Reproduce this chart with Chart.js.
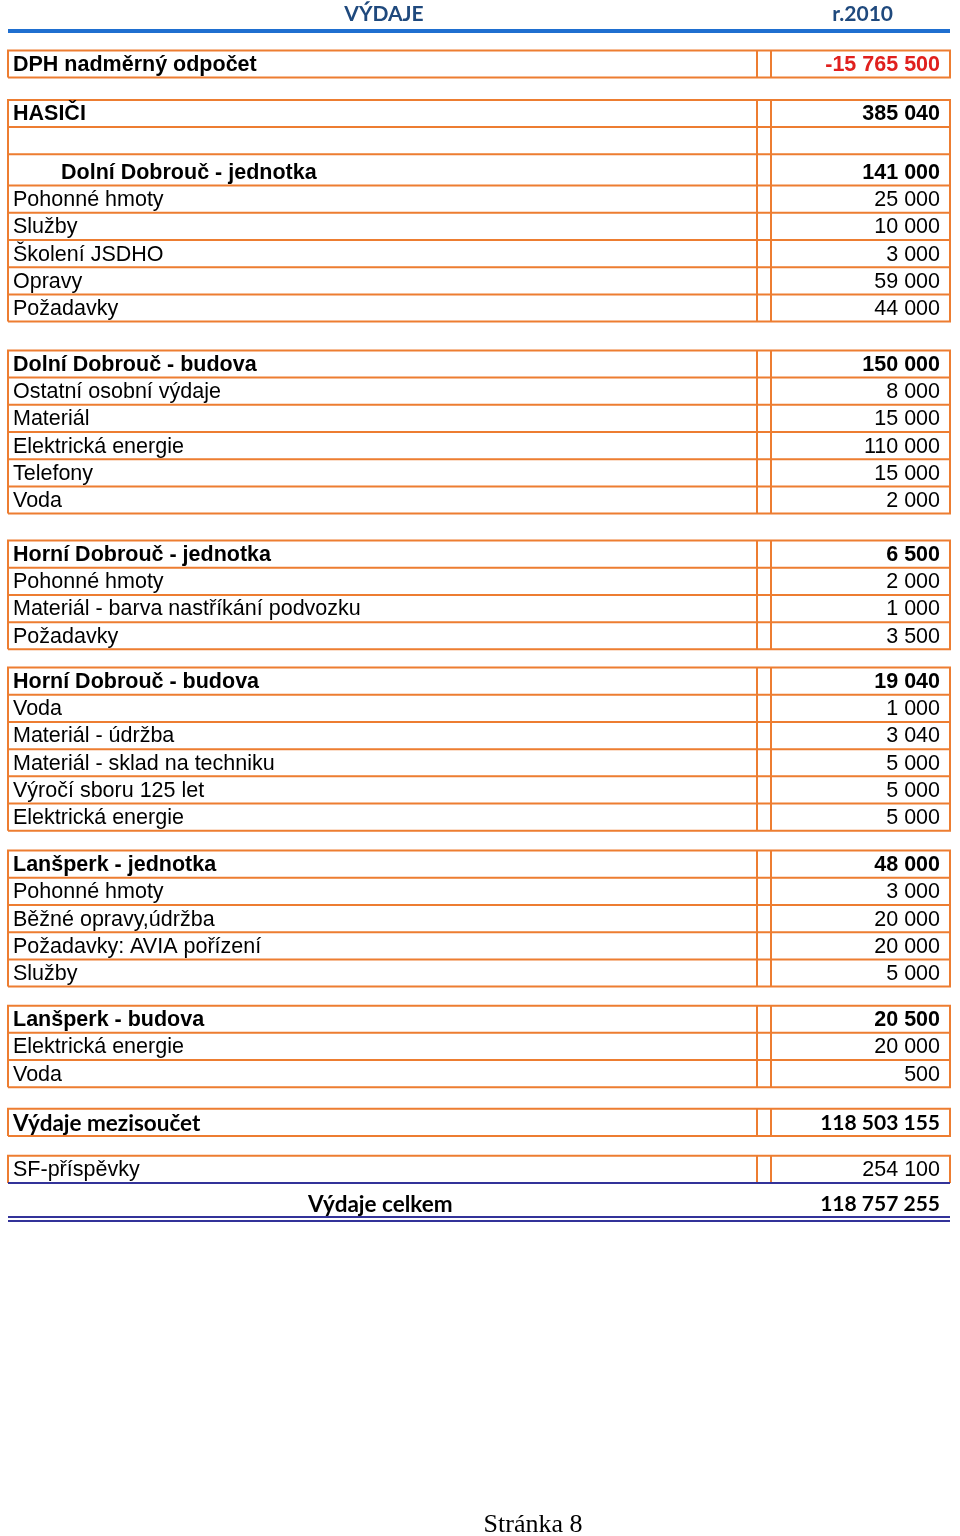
<!DOCTYPE html>
<html lang="cs">
<head>
  <meta charset="UTF-8" />
  <title>Výdaje r.2010</title>
  <style>
    body { margin: 0; background: #ffffff; }
    canvas { display: block; }
  </style>
  <script src="https://cdn.jsdelivr.net/npm/chart.js"></script>
</head>
<body>
  <canvas id="vydaje" width="960" height="1536"></canvas>

  <script>
    // --- data ---
    const pageTitle = 'VÝDAJE';
    const yearLabel = 'r.2010';
    const footerText = 'Stránka 8';

    const rowLabels = [
      'DPH nadměrný odpočet',
      'HASIČI', '', 'Dolní Dobrouč - jednotka', 'Pohonné hmoty', 'Služby', 'Školení JSDHO', 'Opravy', 'Požadavky',
      'Dolní Dobrouč - budova', 'Ostatní osobní výdaje', 'Materiál', 'Elektrická energie', 'Telefony', 'Voda',
      'Horní Dobrouč - jednotka', 'Pohonné hmoty', 'Materiál - barva nastříkání podvozku', 'Požadavky',
      'Horní Dobrouč - budova', 'Voda', 'Materiál - údržba', 'Materiál - sklad na techniku', 'Výročí sboru 125 let', 'Elektrická energie',
      'Lanšperk - jednotka', 'Pohonné hmoty', 'Běžné opravy,údržba', 'Požadavky: AVIA pořízení', 'Služby',
      'Lanšperk - budova', 'Elektrická energie', 'Voda',
      'Výdaje mezisoučet',
      'SF-příspěvky',
      'Výdaje celkem'
    ];
    const rowValues = [
      -15765500,
      385040, null, 141000, 25000, 10000, 3000, 59000, 44000,
      150000, 8000, 15000, 110000, 15000, 2000,
      6500, 2000, 1000, 3500,
      19040, 1000, 3040, 5000, 5000, 5000,
      48000, 3000, 20000, 20000, 5000,
      20500, 20000, 500,
      118503155,
      254100,
      118757255
    ];
    // do kterého bloku (rámečku) řádek patří
    const rowBlock = [
      0,
      1, 1, 1, 1, 1, 1, 1, 1,
      2, 2, 2, 2, 2, 2,
      3, 3, 3, 3,
      4, 4, 4, 4, 4, 4,
      5, 5, 5, 5, 5,
      6, 6, 6,
      7,
      8,
      9
    ];
    const subtotalRows = [0, 1, 3, 9, 15, 19, 25, 30];
    const summaryRows = [33, 35];

    // --- vzhled ---
    const ROW_PX = 27.2;
    const FIRST_ROW_PX = 64;
    const blockGap = [1.82, 2.06, 1.99, 1.67, 1.73, 1.70, 1.79, 1.73, 1.25];
    const tallRow = 3, tallExtra = 0.15; // vyšší řádek „Dolní Dobrouč - jednotka“
    const X_LEFT = 8, X_SEP1 = 757, X_SEP2 = 771, X_RIGHT = 950;
    const X_TEXT = 13, X_INDENT = 61, X_VALUE = 940, X_TOTAL_LABEL = 308;
    const ORANGE = '#ED7D31';
    const NAVY = '#333399';
    const TITLE_BLUE = '#1F497D';
    const SANS = 'Arial, "Liberation Sans", Helvetica, sans-serif';
    const CALIBRI = 'Lato, "Open Sans", sans-serif';

    const rowPos = [];
    let pos = 0;
    rowBlock.forEach((b, i) => {
      if (i > 0) pos += (b !== rowBlock[i - 1]) ? blockGap[rowBlock[i - 1]] : 1;
      if (i === tallRow) pos += tallExtra;
      rowPos.push(pos);
    });

    function fmt(v) {
      const s = String(Math.abs(v)).replace(/\B(?=(\d{3})+(?!\d))/g, ' ');
      return (v < 0 ? '-' : '') + s;
    }

    const tablePlugin = {
      id: 'tablePlugin',
      afterDatasetsDraw(chart) {
        const ctx = chart.ctx;
        const xs = chart.scales.x, ys = chart.scales.y;
        const pts = chart.getDatasetMeta(0).data;
        const X = v => xs.getPixelForValue(v);
        const Y = v => ys.getPixelForValue(v);

        ctx.save();
        // hlavička
        ctx.fillStyle = TITLE_BLUE;
        ctx.font = 'bold 21px ' + CALIBRI;
        ctx.textBaseline = 'middle';
        ctx.textAlign = 'center';
        ctx.fillText(pageTitle, X(384), Y(-1.84));
        ctx.textAlign = 'right';
        ctx.fillText(yearLabel, X(893), Y(-1.84));
        ctx.strokeStyle = '#1F6FD0';
        ctx.lineWidth = 4;
        ctx.beginPath();
        ctx.moveTo(X(X_LEFT), Y(-1.21));
        ctx.lineTo(X(X_RIGHT), Y(-1.21));
        ctx.stroke();

        // rámečky bloků
        const blocks = [...new Set(rowBlock)];
        blocks.forEach(b => {
          const idx = rowBlock.map((bb, i) => bb === b ? i : -1).filter(i => i >= 0);
          const first = rowPos[idx[0]], last = rowPos[idx[idx.length - 1]];
          const top = Y(first - 0.5), bottom = Y(last + 0.5);
          if (b === 9) {
            // dvojitá čára pod celkem
            ctx.strokeStyle = NAVY;
            ctx.lineWidth = 2;
            [0, 4].forEach(d => {
              ctx.beginPath();
              ctx.moveTo(X(X_LEFT), bottom + d);
              ctx.lineTo(X(X_RIGHT), bottom + d);
              ctx.stroke();
            });
            return;
          }
          ctx.strokeStyle = ORANGE;
          ctx.lineWidth = 2;
          ctx.beginPath();
          ctx.moveTo(X(X_LEFT), bottom);
          ctx.lineTo(X(X_LEFT), top);
          ctx.lineTo(X(X_RIGHT), top);
          ctx.lineTo(X(X_RIGHT), bottom);
          if (b !== 8) ctx.lineTo(X(X_LEFT), bottom);
          [X_SEP1, X_SEP2].forEach(sx => {
            ctx.moveTo(X(sx), top);
            ctx.lineTo(X(sx), bottom);
          });
          idx.slice(0, -1).forEach(i => {
            ctx.moveTo(X(X_LEFT), Y(rowPos[i] + 0.5));
            ctx.lineTo(X(X_RIGHT), Y(rowPos[i] + 0.5));
          });
          ctx.stroke();
          if (b === 8) {
            ctx.strokeStyle = NAVY;
            ctx.beginPath();
            ctx.moveTo(X(X_LEFT), bottom);
            ctx.lineTo(X(X_RIGHT), bottom);
            ctx.stroke();
          }
        });

        // texty řádků
        ctx.textBaseline = 'middle';
        rowLabels.forEach((label, i) => {
          const p = pts[i];
          const summary = summaryRows.includes(i);
          const bold = subtotalRows.includes(i);
          ctx.font = summary ? 'bold 22.5px ' + CALIBRI : (bold ? 'bold 21.5px ' + SANS : '21.5px ' + SANS);
          ctx.fillStyle = '#000000';
          ctx.textAlign = 'left';
          let lx = X_TEXT;
          if (i === 3) lx = X_INDENT;
          if (i === 35) lx = X_TOTAL_LABEL;
          ctx.fillText(label, X(lx), p.y + 1);
          if (rowValues[i] !== null) {
            if (summary) ctx.font = 'bold 21px ' + CALIBRI;
            ctx.textAlign = 'right';
            ctx.fillStyle = rowValues[i] < 0 ? '#E0201E' : '#000000';
            ctx.fillText(fmt(rowValues[i]), p.x, p.y + 1);
          }
        });

        // zápatí
        ctx.fillStyle = '#000000';
        ctx.font = '26px "Liberation Serif", "Times New Roman", serif';
        ctx.textAlign = 'center';
        ctx.fillText(footerText, X(533), chart.chartArea.bottom - 11);
        ctx.restore();
      }
    };

    const yMin = -FIRST_ROW_PX / ROW_PX;
    new Chart(document.getElementById('vydaje').getContext('2d'), {
      type: 'scatter',
      data: {
        datasets: [{
          data: rowPos.map(p => ({ x: X_VALUE, y: p })),
          pointRadius: 0,
          pointHoverRadius: 0
        }]
      },
      options: {
        responsive: false,
        animation: false,
        layout: { padding: 0 },
        plugins: { legend: { display: false }, tooltip: { enabled: false } },
        scales: {
          x: { type: 'linear', display: false, min: 0, max: 960 },
          y: { type: 'linear', display: false, reverse: true, min: yMin, max: yMin + 1536 / ROW_PX }
        }
      },
      plugins: [tablePlugin]
    });
  </script>
</body>
</html>
